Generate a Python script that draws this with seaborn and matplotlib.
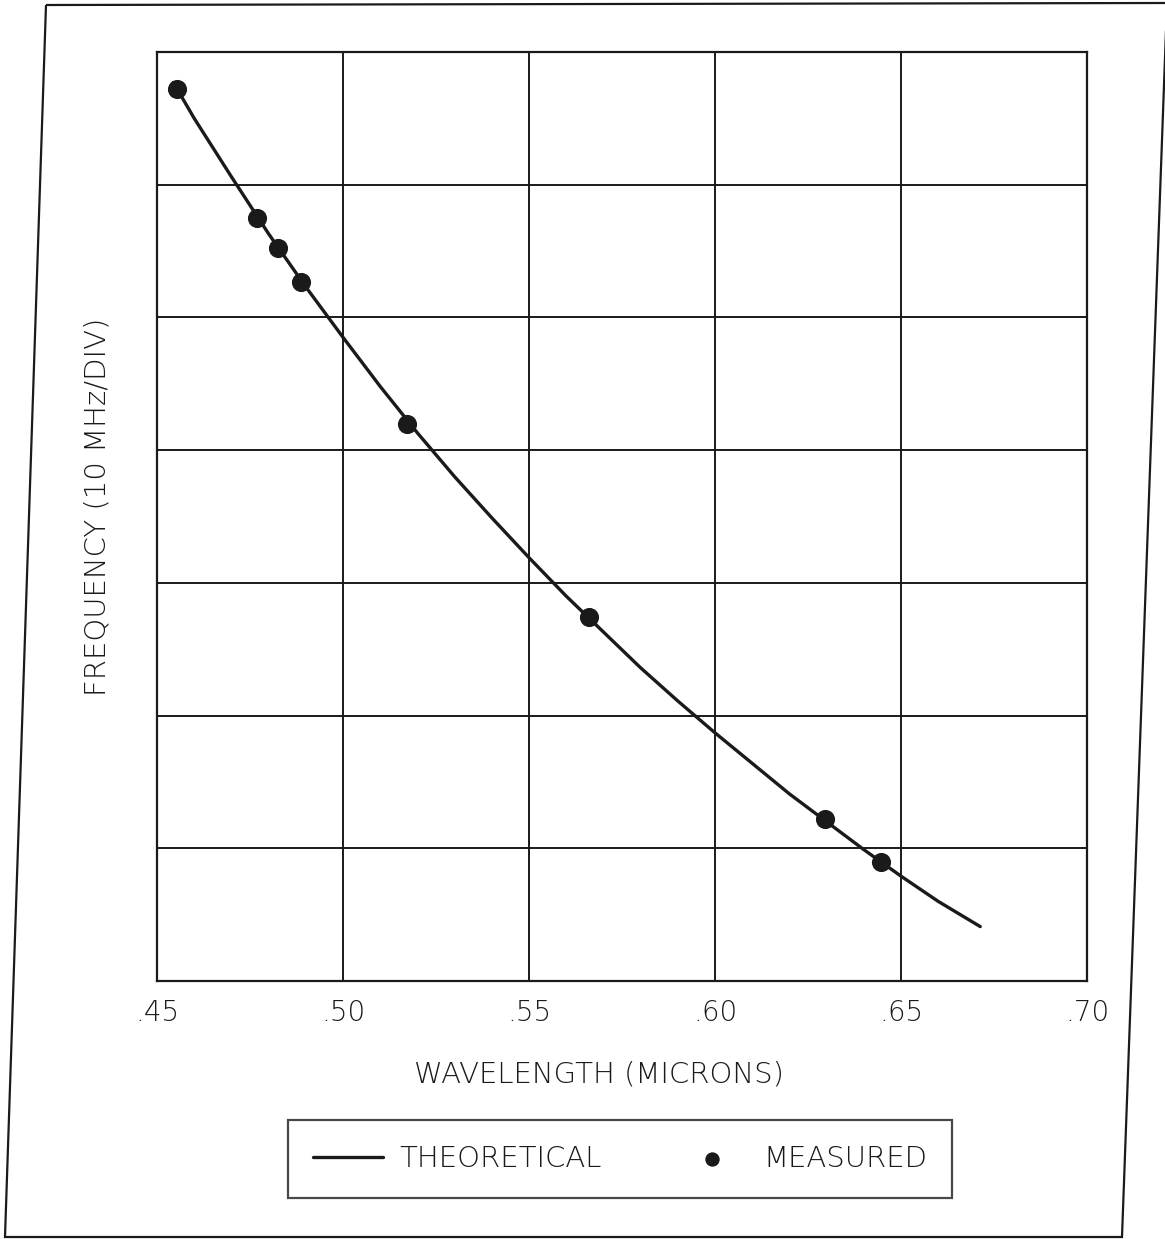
import pandas as pd
import matplotlib.pyplot as plt
from matplotlib.patches import Polygon
import seaborn as sns

# measured points (wavelength in microns, frequency in divisions of 10 MHz)
measured_wl = [0.4554, 0.4769, 0.4824, 0.4888, 0.5171, 0.5661, 0.6295, 0.6445]
measured_freq = [6.72, 5.75, 5.52, 5.27, 4.20, 2.74, 1.22, 0.90]

# theoretical curve
theory_wl = [0.4544, 0.46, 0.47, 0.48, 0.49, 0.50, 0.51, 0.52, 0.53, 0.54,
             0.55, 0.56, 0.57, 0.58, 0.59, 0.60, 0.61, 0.62, 0.63, 0.64,
             0.65, 0.66, 0.6713]
theory_freq = [6.77, 6.50, 6.06, 5.63, 5.23, 4.85, 4.48, 4.13, 3.80, 3.49,
               3.19, 2.90, 2.63, 2.36, 2.11, 1.87, 1.64, 1.41, 1.20, 0.99,
               0.79, 0.60, 0.41]

x_ticks = [0.45, 0.50, 0.55, 0.60, 0.65, 0.70]
x_tick_labels = [".45", ".50", ".55", ".60", ".65", ".70"]
y_divisions = list(range(0, 8))

ink = "#1a1a1a"
fs = 20

sns.set_style("white")
plt.rcParams["font.family"] = ["DejaVu Sans"]

W, H = 1165, 1239
fig = plt.figure(figsize=(W / 100, H / 100), dpi=100)
ax = fig.add_axes([157 / W, 1 - 981 / H, 930 / W, 929 / H])

theory = pd.DataFrame({"wl": theory_wl, "freq": theory_freq})
meas = pd.DataFrame({"wl": measured_wl, "freq": measured_freq})

sns.lineplot(data=theory, x="wl", y="freq", ax=ax, color=ink, lw=2.4,
             sort=False, estimator=None, label="THEORETICAL", zorder=3)
sns.scatterplot(data=meas, x="wl", y="freq", ax=ax, color=ink, s=190,
                linewidth=0, label="MEASURED", zorder=4)

ax.set_xlim(0.45, 0.70)
ax.set_ylim(0, 7)
ax.set_xticks(x_ticks)
ax.set_xticklabels(x_tick_labels, fontsize=fs, color=ink, fontweight="light")
ax.set_yticks(y_divisions)
ax.set_yticklabels([])
ax.tick_params(axis="both", length=0)
ax.tick_params(axis="x", pad=13)
ax.grid(True, color=ink, lw=1.4)
for sp in ax.spines.values():
    sp.set_visible(True)
    sp.set_color(ink)
    sp.set_linewidth(1.6)

ax.set_xlabel("WAVELENGTH (MICRONS)", fontsize=fs + 1, color=ink, fontweight="light")
ax.xaxis.set_label_coords(0.475, -0.086)
ax.set_ylabel("FREQUENCY (10 MHz/DIV)", fontsize=fs + 1, color=ink, fontweight="light")
ax.yaxis.set_label_coords(-0.0645, 0.51)
ax.yaxis.label.set_va("center")

handles, labels = ax.get_legend_handles_labels()
ax.get_legend().remove()
leg = fig.legend(handles, labels, ncol=2, loc="center",
                 bbox_to_anchor=(620 / W, 1 - 1159 / H),
                 fontsize=fs + 1, frameon=True, fancybox=False, edgecolor=ink,
                 handlelength=2.4, handletextpad=0.55, columnspacing=2.6,
                 borderpad=0.85, markerscale=0.75)
leg.get_frame().set_linewidth(1.6)
for t in leg.get_texts():
    t.set_color(ink)
    t.set_fontweight("light")

# outer page frame (slightly skewed as on the scan)
frame_px = [(46, 5), (1167, 3), (1122, 1237), (5, 1237)]
frame = Polygon([(x / W, 1 - y / H) for x, y in frame_px], closed=True,
                fill=False, edgecolor=ink, lw=1.6, transform=fig.transFigure)
fig.add_artist(frame)

fig.savefig("out.png", dpi=100, facecolor="white")
